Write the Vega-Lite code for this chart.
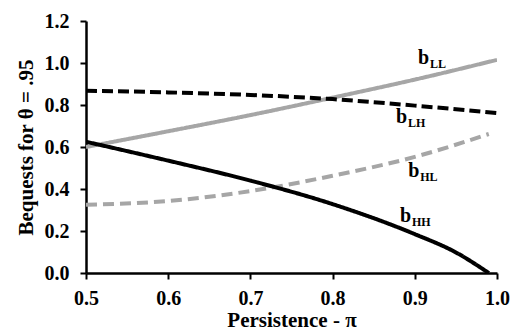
{
  "$schema": "https://vega.github.io/schema/vega-lite/v6.json",
  "width": 411,
  "height": 252,
  "autosize": "none",
  "padding": {"left": 86, "top": 21, "right": 17, "bottom": 58},
  "background": "white",
  "config": {
    "view": {"stroke": null},
    "font": "Liberation Serif",
    "axis": {
      "grid": false,
      "labelFlush": false,
      "labelOverlap": false,
      "domainColor": "#000",
      "domainWidth": 2.5,
      "tickColor": "#000",
      "tickWidth": 2,
      "tickSize": 6,
      "labelFont": "Liberation Serif",
      "labelFontWeight": "bold",
      "labelFontSize": 20,
      "labelColor": "#000",
      "titleFont": "Liberation Serif",
      "titleFontWeight": "bold",
      "titleFontSize": 21,
      "titleColor": "#000"
    }
  },
  "datasets": {
    "lines": [
      {"series": "LL", "pi": 0.5, "b": 0.60},
      {"series": "LL", "pi": 0.6, "b": 0.675},
      {"series": "LL", "pi": 0.7, "b": 0.752},
      {"series": "LL", "pi": 0.8, "b": 0.835},
      {"series": "LL", "pi": 0.9, "b": 0.921},
      {"series": "LL", "pi": 1.0, "b": 1.015},
      {"series": "LH", "pi": 0.5, "b": 0.868},
      {"series": "LH", "pi": 0.6, "b": 0.860},
      {"series": "LH", "pi": 0.7, "b": 0.848},
      {"series": "LH", "pi": 0.8, "b": 0.828},
      {"series": "LH", "pi": 0.9, "b": 0.797},
      {"series": "LH", "pi": 1.0, "b": 0.762},
      {"series": "HL", "pi": 0.5, "b": 0.325},
      {"series": "HL", "pi": 0.6, "b": 0.343},
      {"series": "HL", "pi": 0.7, "b": 0.39},
      {"series": "HL", "pi": 0.8, "b": 0.463},
      {"series": "HL", "pi": 0.9, "b": 0.553},
      {"series": "HL", "pi": 0.99, "b": 0.662},
      {"series": "HH", "pi": 0.5, "b": 0.625},
      {"series": "HH", "pi": 0.6, "b": 0.535},
      {"series": "HH", "pi": 0.7, "b": 0.44},
      {"series": "HH", "pi": 0.8, "b": 0.328},
      {"series": "HH", "pi": 0.9, "b": 0.185},
      {"series": "HH", "pi": 0.95, "b": 0.098},
      {"series": "HH", "pi": 0.99, "b": 0.0}
    ],
    "labels": [
      {"series": "LL", "pi": 0.904, "b": 0.995},
      {"series": "LH", "pi": 0.877, "b": 0.714},
      {"series": "HL", "pi": 0.892, "b": 0.457},
      {"series": "HH", "pi": 0.882, "b": 0.243}
    ]
  },
  "layer": [
    {
      "data": {"name": "lines"},
      "mark": {"type": "line", "strokeWidth": 4, "clip": true, "interpolate": "monotone"},
      "encoding": {
        "x": {
          "field": "pi", "type": "quantitative",
          "scale": {"domain": [0.5, 1.0], "nice": false, "zero": false},
          "axis": {"values": [0.5, 0.6, 0.7, 0.8, 0.9, 1.0], "format": ".1f", "title": "Persistence - π", "labelPadding": 9, "titlePadding": 1}
        },
        "y": {
          "field": "b", "type": "quantitative",
          "scale": {"domain": [0, 1.2], "nice": false},
          "axis": {"values": [0, 0.2, 0.4, 0.6, 0.8, 1.0, 1.2], "format": ".1f", "title": "Bequests for θ = .95", "labelPadding": 11, "titlePadding": 8}
        },
        "detail": {"field": "series"},
        "color": {
          "field": "series", "type": "nominal", "legend": null,
          "scale": {"domain": ["LL", "LH", "HL", "HH"], "range": ["#a6a6a6", "#000000", "#a6a6a6", "#000000"]}
        },
        "strokeDash": {
          "field": "series", "type": "nominal", "legend": null,
          "scale": {"domain": ["LL", "LH", "HL", "HH"], "range": [[1, 0], [11, 5], [11, 6], [1, 0]]}
        }
      }
    },
    {
      "data": {"name": "labels"},
      "mark": {"type": "text", "text": "b", "font": "Liberation Serif", "fontWeight": "bold", "fontSize": 20, "align": "left", "baseline": "alphabetic", "color": "#000"},
      "encoding": {
        "x": {"field": "pi", "type": "quantitative"},
        "y": {"field": "b", "type": "quantitative"}
      }
    },
    {
      "data": {"name": "labels"},
      "mark": {"type": "text", "font": "Liberation Serif", "fontWeight": "bold", "fontSize": 12, "align": "left", "baseline": "alphabetic", "dx": 12, "dy": 4, "color": "#000"},
      "encoding": {
        "x": {"field": "pi", "type": "quantitative"},
        "y": {"field": "b", "type": "quantitative"},
        "text": {"field": "series"}
      }
    }
  ]
}
